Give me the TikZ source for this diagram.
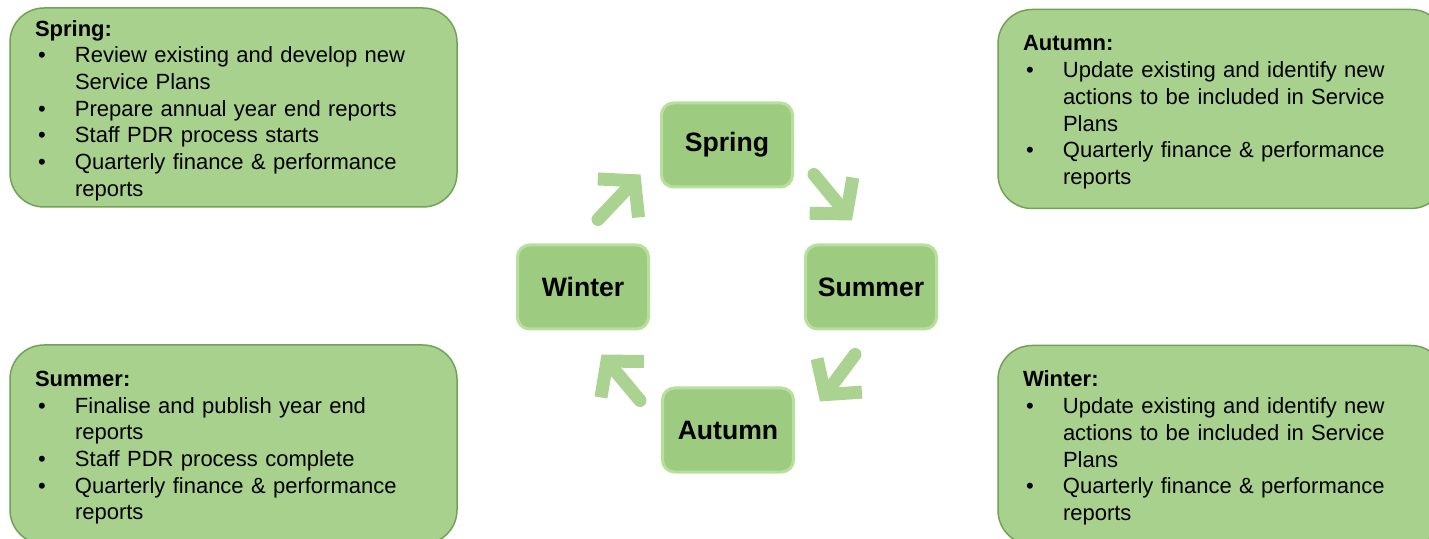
\documentclass[tikz,border=0pt]{standalone}
\usepackage{fontspec}
\setmainfont{Liberation Sans}
\usetikzlibrary{arrows.meta}
\usetikzlibrary{calc}
\definecolor{notegreen}{HTML}{A9D18E}
\definecolor{noteedge}{HTML}{72A256}
\definecolor{seasongreen}{HTML}{9DCB80}
\definecolor{seasonedge}{HTML}{B7E09D}
\definecolor{arrowgreen}{HTML}{AAD290}
\tikzstyle{note} = [draw=noteedge, fill=notegreen, line width=0.75pt, rounded corners=17pt, text width=198.5pt, minimum height=99.5pt, inner xsep=12.5pt, inner ysep=0pt, align=left, font=\fontsize{11}{13.35}\selectfont]
\tikzstyle{season} = [draw=seasonedge, fill=seasongreen, line width=1.5pt, rounded corners=6pt, minimum width=65.5pt, minimum height=42pt, font=\fontsize{13.3}{15}\selectfont\bfseries]
\tikzstyle{cycle} = [draw=arrowgreen, line width=6.5pt, line cap=round, -{Straight Barb[length=12pt,width=28pt]}]
\newcommand{\itm}{\par\hangindent=20pt\hangafter=1\noindent\makebox[20pt][l]{\hspace{1.5pt}\textbullet}}
\newcommand{\ttl}[1]{\rule{0pt}{11pt}\textbf{#1}}

\begin{document}
\begin{tikzpicture}[x=0.5pt, y=-0.5pt]
	\clip (0,0) rectangle (1429,539);

	\node (springnote) at(233.5,107.5) [note] {\ttl{Spring:}
		\itm Review existing and develop new\newline Service Plans
		\itm Prepare annual year end reports
		\itm Staff PDR process starts
		\itm Quarterly finance \& performance\newline reports\par};
	\node (autumnnote) at(1221.5,109) [note] {\ttl{Autumn:}
		\itm Update existing and identify new\newline actions to be included in Service\newline Plans
		\itm Quarterly finance \& performance\newline reports\par};
	\node (summernote) at(233.5,444.5) [note] {\ttl{Summer:}
		\itm Finalise and publish year end\newline reports
		\itm Staff PDR process complete
		\itm Quarterly finance \& performance\newline reports\par};
	\node (winternote) at(1221.5,445) [note] {\ttl{Winter:}
		\itm Update existing and identify new\newline actions to be included in Service\newline Plans
		\itm Quarterly finance \& performance\newline reports\par};

	\node (spring) at(727,145) [season] {Spring};
	\node (summer) at(871,287) [season] {Summer};
	\node (autumn) at(728,430) [season] {Autumn};
	\node (winter) at(583,287) [season] {Winter};

	\coordinate (a1) at ($(spring.south east)+(20,-14)$);
	\coordinate (b1) at ($(summer.north west)+(48,-23)$);
	\coordinate (a2) at ($(summer.south west)+(51,24)$);
	\coordinate (b2) at ($(autumn.north east)+(25,15)$);
	\coordinate (a3) at ($(autumn.north west)+(-21,14)$);
	\coordinate (b3) at ($(winter.south east)+(-48.5,24)$);
	\coordinate (a4) at ($(winter.north east)+(-52,-24)$);
	\coordinate (b4) at ($(spring.south west)+(-19.5,-14)$);

	\draw[cycle] (a1) -- (b1);
	\draw[cycle] (a2) -- (b2);
	\draw[cycle] (a3) -- (b3);
	\draw[cycle] (a4) -- (b4);
\end{tikzpicture}
\end{document}
